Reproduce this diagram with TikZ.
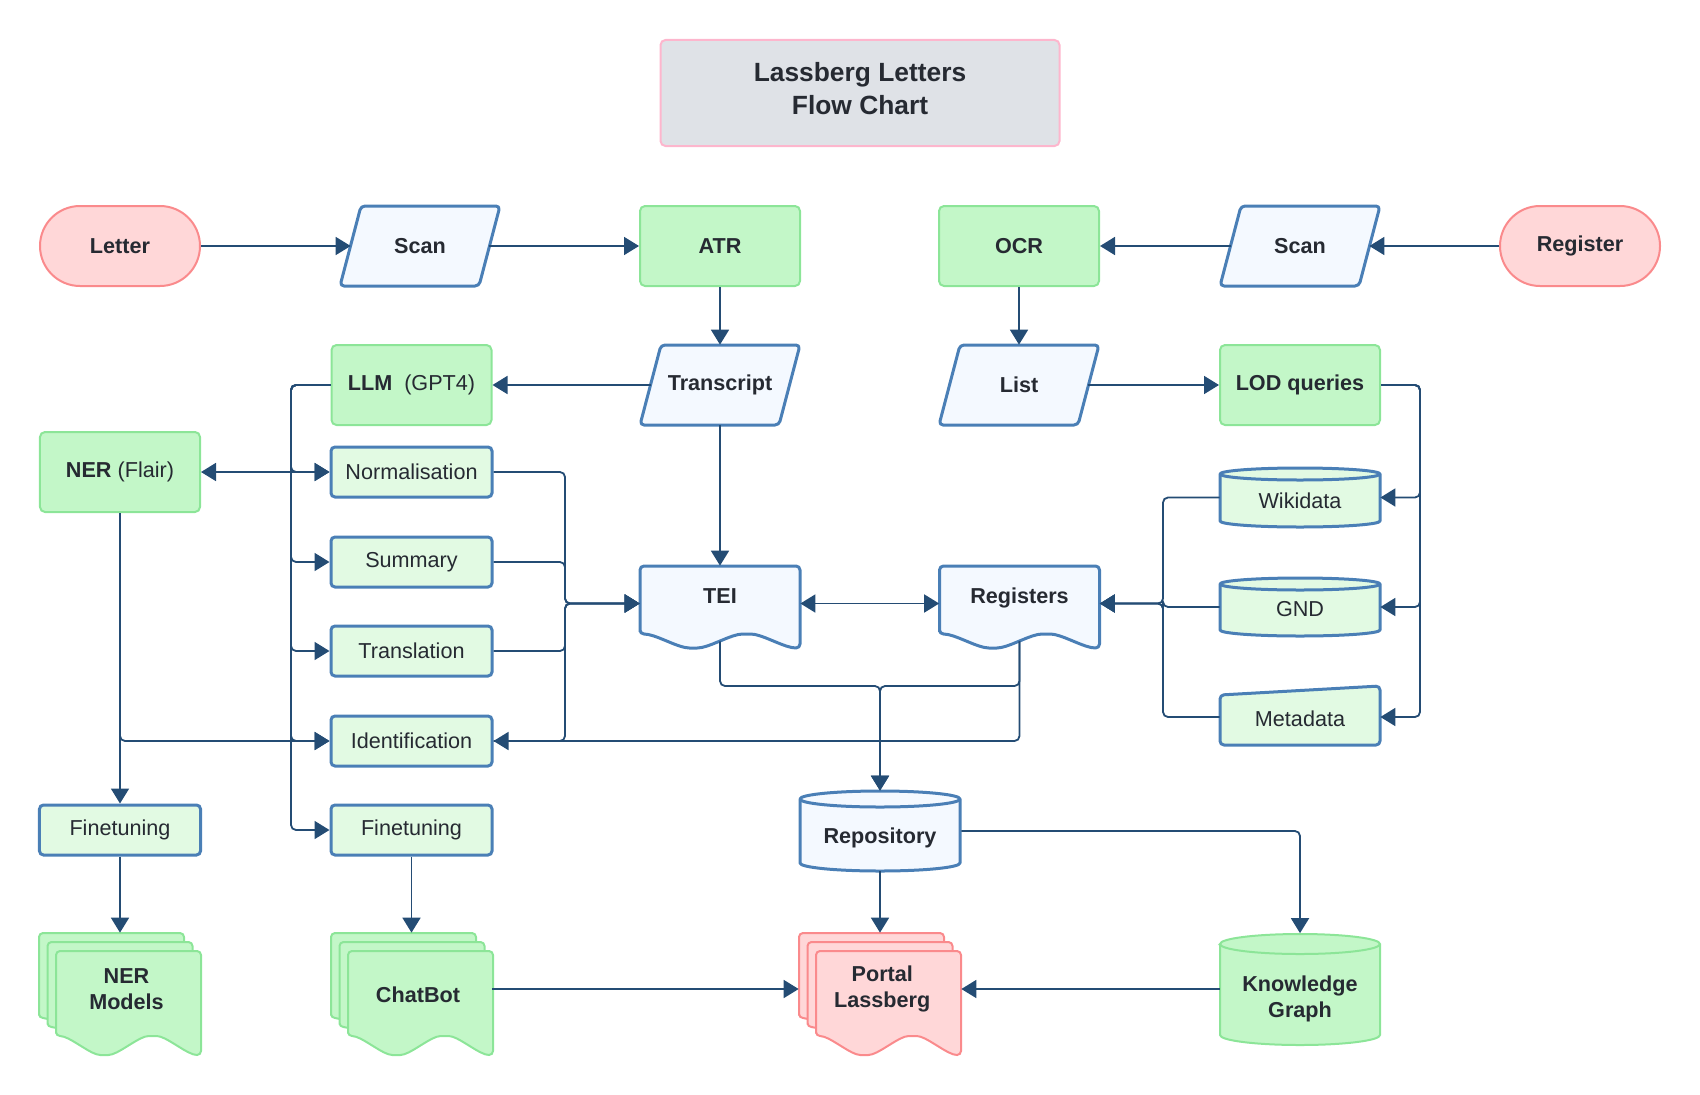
\documentclass[tikz,border=0pt]{standalone}
\usepackage{fontspec}
\setmainfont{Liberation Sans}
\usetikzlibrary{arrows.meta,calc}

\definecolor{linkblue}{RGB}{36,76,116}
\definecolor{edgeblue}{RGB}{74,127,182}
\definecolor{iofill}{RGB}{244,249,255}
\definecolor{taskfill}{RGB}{226,250,227}
\definecolor{procfill}{RGB}{195,247,200}
\definecolor{procline}{RGB}{140,229,152}
\definecolor{termfill}{RGB}{255,215,216}
\definecolor{termline}{RGB}{250,138,140}
\definecolor{titlefill}{RGB}{223,226,231}
\definecolor{titleline}{RGB}{253,182,205}
\definecolor{inkgray}{RGB}{38,42,50}

\newcommand{\lbl}{\fontsize{12.3}{14.8}\selectfont}
% one page with a wavy foot: x0, y0, width, height, wave, style
\newcommand{\docpage}[6]{%
  \draw[#6] (#1,#2+#4) -- (#1,#2) -- (#1+#3,#2) -- (#1+#3,#2+#4+#5)
    cos (#1+5*#3/6,#2+#4+#5/2) sin (#1+2*#3/3,#2+#4) cos (#1+#3/2,#2+#4+#5/2)
    sin (#1+#3/3,#2+#4+#5) cos (#1+#3/6,#2+#4+#5/2) sin (#1,#2+#4) -- cycle;}
% database drum: centre x, top, bottom, lid radius, style
\newcommand{\drum}[5]{%
  \draw[#5,sharp corners] (#1-80,#2+#4) -- (#1-80,#3-#4)
    arc[start angle=180,end angle=360,x radius=16mm,y radius=#4*0.2mm] -- (#1+80,#2+#4)
    arc[start angle=0,end angle=180,x radius=16mm,y radius=#4*0.2mm] -- cycle;
  \draw[#5,sharp corners,fill=none] (#1-80,#2+#4) arc[start angle=180,end angle=360,x radius=16mm,y radius=#4*0.2mm];}

\begin{document}
\begin{tikzpicture}[x=0.2mm,y=-0.2mm,
  every node/.style={font=\lbl,text=inkgray},
  termbox/.style={draw=termline,fill=termfill,line width=0.4mm,rounded corners=8mm,minimum width=32mm,minimum height=16mm,font=\lbl\bfseries},
  procbox/.style={draw=procline,fill=procfill,line width=0.4mm,rounded corners=1mm,minimum width=32mm,minimum height=16mm},
  taskbox/.style={draw=edgeblue,fill=taskfill,line width=0.6mm,rounded corners=0.8mm,minimum width=32.2mm,minimum height=10mm},
  iobox/.style={draw=edgeblue,fill=iofill,line width=0.6mm,rounded corners=0.8mm,line join=round},
  dbgreen/.style={iobox,fill=taskfill},
  greenpage/.style={draw=procline,fill=procfill,line width=0.4mm,rounded corners=0.8mm},
  redpage/.style={draw=termline,fill=termfill,line width=0.4mm,rounded corners=0.8mm},
  tag/.style={inner sep=0pt,align=center},
  conn/.style={draw=linkblue,line width=0.36mm,rounded corners=1mm,-{Triangle[length=3mm,width=3.6mm]}},
  conn2/.style={conn,{Triangle[length=3mm,width=3.6mm]}-{Triangle[length=3mm,width=3.6mm]}}]
  \useasboundingbox (0,0) rectangle (1700,1094);

  \node[draw=titleline,fill=titlefill,line width=0.4mm,rounded corners=1mm,minimum width=79.8mm,minimum height=21.2mm,
    align=center,font=\fontsize{15}{18.5}\selectfont\bfseries] (title) at (860,93)
    {Lassberg Letters\\Flow Chart\rule[-1.75mm]{0pt}{1.75mm}};

  % top rows
  \node[termbox] (letter) at (120,246) {Letter};
  \node[termbox] (register) at (1580,246) {Register};
  \node[procbox,font=\lbl\bfseries] (atr) at (720,246) {ATR};
  \node[procbox,font=\lbl\bfseries] (ocr) at (1019,246) {OCR};
  \node[procbox] (llm) at (411.5,385) {\textbf{LLM}~~(GPT4)};
  \node[procbox,font=\lbl\bfseries] (lod) at (1300,385) {LOD queries};
  \node[procbox] (ner) at (120,472) {\textbf{NER} (Flair)};

  \foreach \cx/\cy in {420/246,1300/246,720/385,1019/385}
    \draw[iobox] (\cx-59,\cy-40) -- (\cx+80,\cy-40) -- (\cx+59,\cy+40) -- (\cx-80,\cy+40) -- cycle;
  \node[tag,minimum width=27.6mm,minimum height=16mm,font=\lbl\bfseries] (scanA) at (420,246) {Scan};
  \node[tag,minimum width=27.6mm,minimum height=16mm,font=\lbl\bfseries] (scanB) at (1300,246) {Scan};
  \node[tag,minimum width=27.6mm,minimum height=16mm,font=\lbl\bfseries] (transcript) at (720,385) {Transcript};
  \node[tag,minimum width=27.6mm,minimum height=16mm,font=\lbl\bfseries] (list) at (1019,385) {List};

  % LLM tasks
  \node[taskbox] (norm) at (411.5,472) {Normalisation};
  \node[taskbox] (summ) at (411.5,562) {Summary};
  \node[taskbox] (trans) at (411.5,651) {Translation};
  \node[taskbox] (ident) at (411.5,741) {Identification};
  \node[taskbox] (fineR) at (411.5,830) {Finetuning};
  \node[taskbox] (fineL) at (120,830) {Finetuning};

  % TEI and registers
  \docpage{640}{566}{160}{68}{14}{iobox}
  \docpage{939.5}{566}{160}{68}{14}{iobox}
  \node[tag,minimum width=32mm,minimum height=15mm,text height=8.8pt,text depth=8.6pt,font=\lbl\bfseries] (tei) at (720,603.5) {TEI};
  \node[tag,minimum width=32mm,minimum height=15mm,text height=8.8pt,text depth=8.6pt,font=\lbl\bfseries] (regs) at (1019.5,603.5) {Registers};

  % sources
  \drum{1300}{468}{527}{6}{dbgreen}
  \drum{1300}{578}{636}{6}{dbgreen}
  \draw[dbgreen] (1220,695) -- (1380,686) -- (1380,745) -- (1220,745) -- cycle;
  \node[tag,minimum width=32mm,minimum height=11.8mm,text height=12.8pt,text depth=0pt] (wiki) at (1300,497.5) {Wikidata};
  \node[tag,minimum width=32mm,minimum height=11.6mm,text height=11.3pt,text depth=0pt] (gnd) at (1300,607) {GND};
  \node[tag,minimum width=32mm,minimum height=11.8mm,text height=11.3pt,text depth=0pt] (meta) at (1300,717) {Metadata};

  % storage
  \drum{880}{791}{871}{8}{iobox}
  \node[tag,minimum width=32.4mm,minimum height=16mm,text height=16.4pt,text depth=2.6pt,font=\lbl\bfseries] (repo) at (880,831) {Repository};
  \drum{1300}{934}{1045}{10}{greenpage}
  \node[tag,minimum width=32mm,minimum height=22.2mm,font=\lbl\bfseries] (kg) at (1300,989) {\rule{0pt}{7.2mm}Knowledge\\Graph};

  % outputs
  \foreach \k in {0,1,2} {
    \docpage{39+8.5*\k}{933+9*\k}{145}{85}{19}{greenpage}
    \docpage{331+8.5*\k}{933+9*\k}{145}{85}{19}{greenpage}
    \docpage{799+8.5*\k}{933+9*\k}{145}{85}{19}{redpage}
  }
  \node[tag,minimum width=32.2mm,minimum height=22.4mm,font=\lbl\bfseries] (nermod) at (120,989) {\hspace*{2.6mm}NER\\\hspace*{2.6mm}Models};
  \node[tag,minimum width=32.2mm,minimum height=22.4mm,text height=15pt,text depth=0pt,font=\lbl\bfseries] (chat) at (411.5,989) {\hspace*{2.6mm}ChatBot};
  \node[tag,minimum width=32.4mm,minimum height=22.4mm,font=\lbl\bfseries] (portal) at (880,989) {\hspace*{0.9mm}Portal\\\hspace*{0.9mm}Lassberg};

  \coordinate (busL) at (291,0);
  \coordinate (busM) at (565,0);
  \coordinate (busR) at (1163,0);
  \coordinate (busF) at (1420,0);
  \coordinate (fork) at (880,686);

  % connectors
  \draw[conn] (letter) -- (scanA);
  \draw[conn] (scanA) -- (atr);
  \draw[conn] (atr) -- (transcript);
  \draw[conn] (register) -- (scanB);
  \draw[conn] (scanB) -- (ocr);
  \draw[conn] (ocr) -- (list);
  \draw[conn] (list) -- (lod);
  \draw[conn] (transcript) -- (llm);
  \draw[conn] (transcript) -- (tei);
  \foreach \t in {norm,summ,trans,ident,fineR}
    \draw[conn] (llm.west) -| (busL |- \t.west) -- (\t.west);
  \draw[conn2] (ner.east) -- (norm.west);
  \draw[conn] (ner) -- (fineL);
  \draw[conn] (ner.south) |- (ident.west);
  \foreach \s in {norm,summ,trans,ident}
    \draw[conn] (\s.east) -| (busM |- tei.west) -- (tei.west);
  \draw[conn2] (tei) -- (regs);
  \foreach \s in {wiki,gnd,meta} {
    \draw[conn] (\s.west) -| (busR |- regs.east) -- (regs.east);
    \draw[conn] (lod.east) -| (busF |- \s.east) -- (\s.east);
  }
  \draw[conn] (tei.south) |- (fork) -- (repo.north);
  \draw[conn] (regs.south) |- (fork) -- (repo.north);
  \draw[conn] (regs.south) |- (ident.east);
  \draw[conn] (repo.east) -| (kg.north);
  \draw[conn] (repo) -- (portal);
  \draw[conn] (fineL) -- (nermod);
  \draw[conn] (fineR) -- (chat);
  \draw[conn] (chat) -- (portal);
  \draw[conn] (kg) -- (portal);
\end{tikzpicture}
\end{document}
